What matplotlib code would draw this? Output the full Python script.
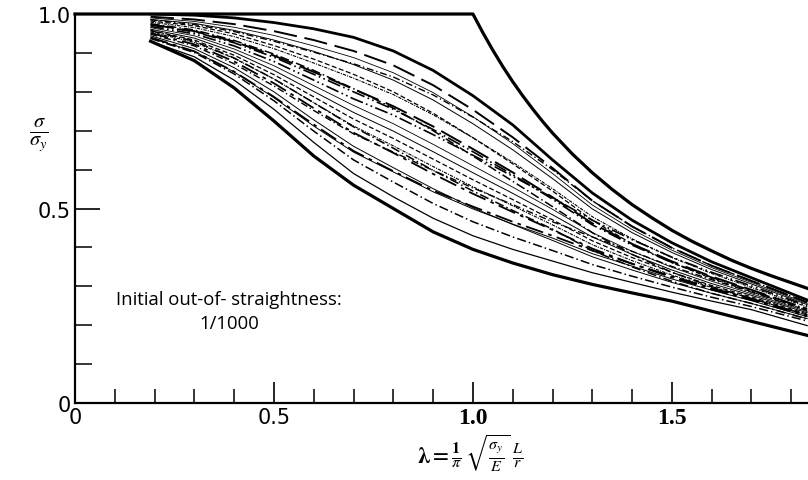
import matplotlib
matplotlib.use('Agg')
import matplotlib.pyplot as plt
from matplotlib.ticker import MultipleLocator

# slenderness grid the curves were read on
lam = [0.19, 0.3, 0.4, 0.5, 0.6, 0.7, 0.8, 0.9, 1.0, 1.1, 1.2, 1.3, 1.4, 1.5, 1.6, 1.7, 1.84]

# Euler / yield limit
euler_x = [0.0, 1.0, 1.025, 1.05, 1.075, 1.1, 1.125, 1.15, 1.175, 1.2, 1.25, 1.3, 1.35, 1.4,
           1.45, 1.5, 1.55, 1.6, 1.65, 1.7, 1.75, 1.84]
euler_y = [1.0, 1.0, 0.952, 0.907, 0.865, 0.826, 0.790, 0.756, 0.724, 0.694, 0.640, 0.592, 0.549, 0.510,
           0.476, 0.444, 0.416, 0.391, 0.367, 0.346, 0.327, 0.295]

# band envelopes
lower = [0.93, 0.88, 0.81, 0.725, 0.635, 0.56, 0.50, 0.44, 0.395, 0.36, 0.33, 0.305, 0.283, 0.262, 0.236, 0.21, 0.174]
lower2 = [0.93, 0.89, 0.83, 0.755, 0.67, 0.59, 0.53, 0.475, 0.43, 0.395, 0.365, 0.335, 0.31, 0.285, 0.262, 0.24, 0.199]
upper = [1.0, 0.997, 0.99, 0.978, 0.962, 0.94, 0.905, 0.855, 0.79, 0.715, 0.625, 0.54, 0.47, 0.412, 0.363, 0.322, 0.265]

# individual column curves inside the band
band = [
    [0.937, 0.901, 0.846, 0.777, 0.699, 0.625, 0.568, 0.513, 0.466, 0.427, 0.392, 0.356, 0.326, 0.298, 0.272, 0.248, 0.211],
    [0.944, 0.911, 0.862, 0.800, 0.728, 0.660, 0.605, 0.551, 0.502, 0.459, 0.418, 0.376, 0.342, 0.310, 0.282, 0.256, 0.217],
    [0.951, 0.922, 0.878, 0.822, 0.758, 0.695, 0.643, 0.589, 0.538, 0.491, 0.445, 0.397, 0.358, 0.323, 0.292, 0.265, 0.223],
    [0.958, 0.933, 0.894, 0.844, 0.787, 0.730, 0.680, 0.627, 0.574, 0.523, 0.471, 0.417, 0.374, 0.336, 0.302, 0.273, 0.229],
    [0.965, 0.944, 0.910, 0.867, 0.816, 0.765, 0.718, 0.665, 0.610, 0.555, 0.498, 0.438, 0.390, 0.349, 0.313, 0.281, 0.235],
    [0.972, 0.954, 0.926, 0.889, 0.845, 0.800, 0.755, 0.703, 0.646, 0.587, 0.524, 0.458, 0.406, 0.361, 0.323, 0.289, 0.241],
    [0.979, 0.965, 0.942, 0.911, 0.874, 0.835, 0.793, 0.741, 0.682, 0.619, 0.551, 0.479, 0.422, 0.374, 0.333, 0.297, 0.247],
    [0.986, 0.976, 0.958, 0.933, 0.904, 0.870, 0.830, 0.779, 0.718, 0.651, 0.577, 0.499, 0.438, 0.387, 0.343, 0.306, 0.253],
    [0.993, 0.986, 0.974, 0.956, 0.933, 0.905, 0.868, 0.817, 0.754, 0.683, 0.604, 0.520, 0.454, 0.399, 0.353, 0.314, 0.259],
    [0.948, 0.918, 0.872, 0.815, 0.752, 0.692, 0.645, 0.598, 0.553, 0.510, 0.466, 0.427, 0.390, 0.351, 0.317, 0.285, 0.238],
    [0.975, 0.959, 0.932, 0.897, 0.855, 0.808, 0.758, 0.700, 0.635, 0.570, 0.505, 0.438, 0.382, 0.336, 0.299, 0.269, 0.226],
    [0.961, 0.938, 0.902, 0.855, 0.801, 0.747, 0.699, 0.646, 0.592, 0.539, 0.484, 0.427, 0.382, 0.342, 0.307, 0.277, 0.232],
    [0.940, 0.904, 0.852, 0.787, 0.716, 0.648, 0.596, 0.546, 0.505, 0.466, 0.430, 0.392, 0.358, 0.326, 0.295, 0.268, 0.226],
    [0.982, 0.970, 0.949, 0.919, 0.884, 0.845, 0.800, 0.745, 0.682, 0.615, 0.545, 0.470, 0.409, 0.361, 0.320, 0.286, 0.238],
    [0.990, 0.981, 0.966, 0.945, 0.918, 0.888, 0.849, 0.798, 0.736, 0.667, 0.590, 0.509, 0.446, 0.393, 0.348, 0.310, 0.256],
    [0.968, 0.949, 0.918, 0.878, 0.830, 0.782, 0.740, 0.690, 0.637, 0.583, 0.528, 0.470, 0.420, 0.375, 0.336, 0.301, 0.250],
    [0.954, 0.927, 0.886, 0.833, 0.772, 0.712, 0.661, 0.608, 0.556, 0.507, 0.458, 0.407, 0.366, 0.329, 0.297, 0.269, 0.226],
    [0.938, 0.904, 0.851, 0.785, 0.712, 0.645, 0.594, 0.543, 0.499, 0.460, 0.424, 0.384, 0.352, 0.319, 0.290, 0.263, 0.222],
    [0.973, 0.956, 0.929, 0.893, 0.851, 0.807, 0.763, 0.711, 0.653, 0.593, 0.529, 0.462, 0.409, 0.364, 0.325, 0.291, 0.242],
    [0.985, 0.973, 0.955, 0.930, 0.902, 0.872, 0.838, 0.792, 0.735, 0.672, 0.600, 0.520, 0.454, 0.399, 0.353, 0.314, 0.259],
    [0.957, 0.930, 0.887, 0.833, 0.772, 0.710, 0.655, 0.598, 0.545, 0.495, 0.447, 0.392, 0.350, 0.313, 0.282, 0.256, 0.216],
]

xticks = [0, 0.5, 1.0, 1.5]
xticklabels = ['0', '0.5', '1.0', '1.5']
yticks = [0, 0.5, 1.0]
yticklabels = ['0', '0.5', '1.0']

plt.rcParams['mathtext.fontset'] = 'stix'

fig = plt.figure(figsize=(8.08, 4.81), dpi=100)
ax = fig.add_axes([0.0928, 0.16, 0.9072, 0.8088])

# line styles cycled over the band curves (the print uses many dash patterns)
styles = [(0, (6, 2, 1, 2)), '-', (0, (10, 3, 2, 3)), (0, (4, 2)), '-', (0, (8, 2, 1, 2, 1, 2)),
          (0, (3, 1, 1, 1)), '-', (0, (12, 4)), (0, (5, 2, 1, 2))]
widths = [1.1, 0.7, 1.3, 0.9, 0.6, 1.2, 0.8, 0.7, 1.4, 1.0]
for i, c in enumerate(band):
    ax.plot(lam, c, color='black', linestyle=styles[i % len(styles)], lw=widths[i % len(widths)])

ax.plot(lam, lower2, color='black', lw=0.9)
ax.plot(lam, lower, color='black', lw=2.3)
ax.plot(lam, upper, color='black', lw=2.0)
ax.plot(euler_x, euler_y, color='black', lw=2.3, clip_on=False)

ax.set_xlim(0, 1.842)
ax.set_ylim(0, 1.0)
for s in ['top', 'right']:
    ax.spines[s].set_visible(False)
for s in ['left', 'bottom']:
    ax.spines[s].set_linewidth(1.6)

ax.set_xticks(xticks)
ax.set_xticklabels(xticklabels)
ax.set_yticks(yticks)
ax.set_yticklabels(yticklabels)
ax.xaxis.set_minor_locator(MultipleLocator(0.1))
ax.yaxis.set_minor_locator(MultipleLocator(0.1))
ax.tick_params(which='major', direction='in', length=15, width=1.2, labelsize=15, pad=3)
ax.tick_params(which='minor', direction='in', length=10, width=1.1)
ax.tick_params(axis='y', which='major', length=18)
ax.tick_params(axis='y', which='minor', length=12)

for lbl in ax.get_xticklabels():
    if lbl.get_text() in ('1.0', '1.5'):
        lbl.set_family('Liberation Serif')
        lbl.set_fontweight('bold')
        lbl.set_fontsize(17)

ax.text(-0.05, 0.69, r'$\frac{\sigma}{\sigma_y}$', transform=ax.transAxes,
        fontsize=21, ha='center', va='center')
fig.text(0.582, 0.058, r'$\mathbf{\lambda} = \frac{\mathbf{1}}{\pi}\,\sqrt{\frac{\sigma_y}{E}}\;\frac{L}{r}$',
         fontsize=16.5, ha='center', va='center')

ax.text(0.387, 0.236, 'Initial out-of- straightness:\n1/1000', fontsize=13.3,
        family='Open Sans', ha='center', va='center', linespacing=1.4)

plt.savefig('out.png', dpi=100)
